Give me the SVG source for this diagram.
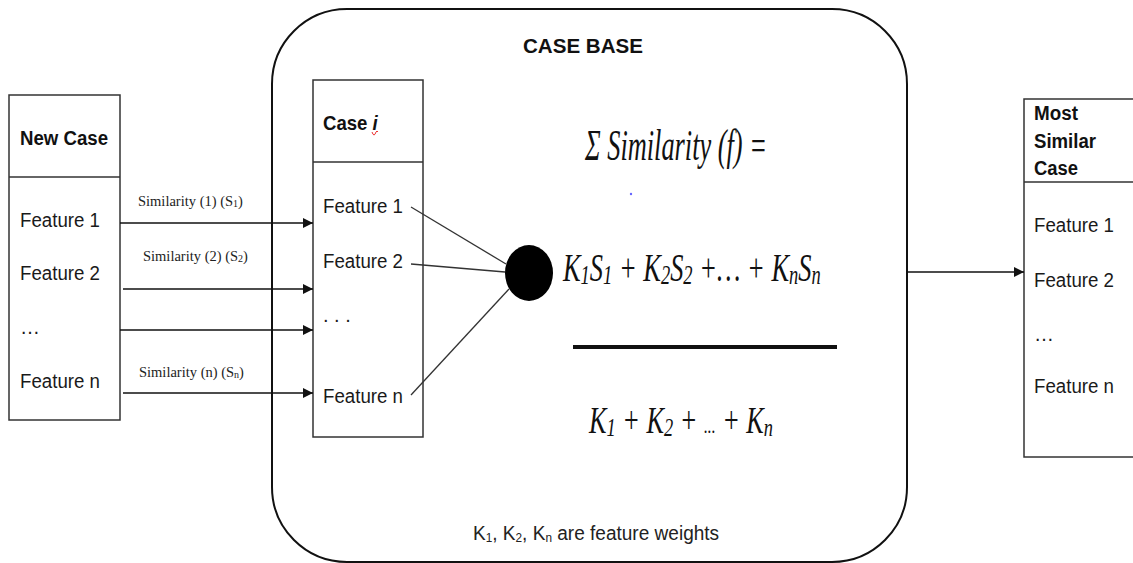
<svg xmlns="http://www.w3.org/2000/svg" width="1133" height="563" viewBox="0 0 1133 563">
  <style>
    .box { fill: #fff; stroke: #333; stroke-width: 1.5; }
    .sep { stroke: #333; stroke-width: 1.5; }
    .title { font-family: "Liberation Sans", Arial, sans-serif; font-weight: bold; font-size: 20px; fill: #111; }
    .feat { font-family: "Liberation Sans", Arial, sans-serif; font-size: 20px; fill: #1a1a1a; }
    .sim { font-family: "Liberation Serif", "Times New Roman", serif; font-size: 14.5px; fill: #222; }
    .math { font-family: "Liberation Serif", "Times New Roman", serif; font-style: italic; fill: #111; }
    .arrow { stroke: #111; stroke-width: 1.5; fill: none; marker-end: url(#head); }
    .link { stroke: #333; stroke-width: 1.3; fill: none; }
  </style>
  <defs>
    <marker id="head" markerUnits="userSpaceOnUse" markerWidth="11" markerHeight="11" refX="10" refY="5" orient="auto">
      <path d="M0,0 L10,5 L0,10 z" fill="#111"/>
    </marker>
  </defs>

  <rect width="1133" height="563" fill="#fff"/>

  <!-- case base container -->
  <g id="case-base">
    <rect x="272" y="9" width="635" height="553" rx="75" ry="75" fill="none" stroke="#111" stroke-width="2"/>
    <text x="523" y="53" class="title" font-size="23px" textLength="120" lengthAdjust="spacingAndGlyphs">CASE BASE</text>
    <g transform="translate(473,540) scale(0.907,1)">
      <text x="0" y="0" font-family="Liberation Sans, Arial, sans-serif" font-size="21" fill="#222">K<tspan font-size="13" dy="2">1</tspan><tspan dy="-2">, K</tspan><tspan font-size="13" dy="2">2</tspan><tspan dy="-2">, K</tspan><tspan font-size="13" dy="2">n</tspan><tspan dy="-2"> are feature weights</tspan></text>
    </g>
  </g>

  <!-- incoming case -->
  <g id="new-case">
    <rect x="9" y="95" width="111" height="325" class="box"/>
    <line x1="9" y1="177" x2="120" y2="177" class="sep"/>
    <text x="20" y="145" class="title" textLength="88" lengthAdjust="spacingAndGlyphs">New Case</text>
    <text x="20" y="227" class="feat" textLength="80" lengthAdjust="spacingAndGlyphs">Feature 1</text>
    <text x="20" y="280" class="feat" textLength="80" lengthAdjust="spacingAndGlyphs">Feature 2</text>
    <text x="20" y="334" class="feat">…</text>
    <text x="20" y="388" class="feat" textLength="80" lengthAdjust="spacingAndGlyphs">Feature n</text>
  </g>

  <!-- stored case -->
  <g id="case-i">
    <rect x="313" y="80" width="110" height="357" class="box"/>
    <line x1="313" y1="162" x2="423" y2="162" class="sep"/>
    <g transform="translate(323,130) scale(0.93,1)">
      <text x="0" y="0" class="title">Case <tspan font-style="italic">i</tspan></text>
    </g>
    <path d="M372,132 q1,3 2,3 q1,0 2,-3 q1,-2 2,0" fill="none" stroke="#e33" stroke-width="1"/>
    <text x="323" y="213" class="feat" textLength="80" lengthAdjust="spacingAndGlyphs">Feature 1</text>
    <text x="323" y="268" class="feat" textLength="80" lengthAdjust="spacingAndGlyphs">Feature 2</text>
    <text x="323" y="322" class="feat">. . .</text>
    <text x="323" y="403" class="feat" textLength="80" lengthAdjust="spacingAndGlyphs">Feature n</text>
  </g>

  <!-- aggregation point -->
  <g id="aggregate">
    <ellipse cx="529" cy="273" rx="24" ry="28" fill="#000"/>
  </g>

  <!-- weighted similarity formula -->
  <g id="formula">
    <text x="585" y="160" class="math" font-size="44" textLength="182" lengthAdjust="spacingAndGlyphs">Σ Similarity (f) =</text>
    <circle cx="631" cy="194" r="1.2" fill="#66f"/>
    <g transform="translate(563,281) scale(0.66,1)">
      <text x="0" y="0" class="math" font-size="40">K<tspan font-size="28" dy="3">1</tspan><tspan dy="-3">S</tspan><tspan font-size="28" dy="3">1</tspan><tspan dy="-3"> + K</tspan><tspan font-size="28" dy="3">2</tspan><tspan dy="-3">S</tspan><tspan font-size="28" dy="3">2</tspan><tspan dy="-3"> +… + K</tspan><tspan font-size="28" dy="3">n</tspan><tspan dy="-3">S</tspan><tspan font-size="28" dy="3">n</tspan></text>
    </g>
    <line x1="573" y1="347" x2="837" y2="347" stroke="#111" stroke-width="4"/>
    <g transform="translate(589,433) scale(0.708,1)">
      <text x="0" y="0" class="math" font-size="37">K<tspan font-size="26" dy="3">1</tspan><tspan dy="-3"> + K</tspan><tspan font-size="26" dy="3">2</tspan><tspan dy="-3"> + </tspan><tspan font-size="22">...</tspan><tspan> + K</tspan><tspan font-size="26" dy="3">n</tspan></text>
    </g>
  </g>

  <!-- retrieved result -->
  <g id="most-similar-case">
    <rect x="1024" y="99" width="120" height="358" class="box"/>
    <line x1="1024" y1="182" x2="1133" y2="182" class="sep"/>
    <text x="1034" y="120" class="title" textLength="44" lengthAdjust="spacingAndGlyphs">Most</text>
    <text x="1034" y="148" class="title" textLength="62" lengthAdjust="spacingAndGlyphs">Similar</text>
    <text x="1034" y="175" class="title" textLength="44" lengthAdjust="spacingAndGlyphs">Case</text>
    <text x="1034" y="232" class="feat" fill="#333" textLength="80" lengthAdjust="spacingAndGlyphs">Feature 1</text>
    <text x="1034" y="287" class="feat" fill="#333" textLength="80" lengthAdjust="spacingAndGlyphs">Feature 2</text>
    <text x="1034" y="341" class="feat" fill="#333">…</text>
    <text x="1034" y="393" class="feat" fill="#333" textLength="80" lengthAdjust="spacingAndGlyphs">Feature n</text>
  </g>

  <!-- connectors -->
  <g id="connectors">
    <line x1="120" y1="223" x2="313" y2="223" class="arrow"/>
    <line x1="123" y1="289" x2="313" y2="289" class="arrow"/>
    <line x1="120" y1="330" x2="313" y2="330" class="arrow"/>
    <line x1="123" y1="393" x2="313" y2="393" class="arrow"/>
    <text x="138" y="206" class="sim">Similarity (1) (S<tspan font-size="10" dy="1">1</tspan><tspan dy="-1">)</tspan></text>
    <text x="143" y="261" class="sim">Similarity (2) (S<tspan font-size="10" dy="1">2</tspan><tspan dy="-1">)</tspan></text>
    <text x="139" y="377" class="sim">Similarity (n) (S<tspan font-size="10" dy="1">n</tspan><tspan dy="-1">)</tspan></text>
    <line x1="411" y1="207" x2="506" y2="264" class="link"/>
    <line x1="411" y1="264" x2="505" y2="272" class="link"/>
    <line x1="411" y1="395" x2="509" y2="289" class="link"/>
    <line x1="907" y1="272" x2="1024" y2="272" class="arrow"/>
  </g>
</svg>
